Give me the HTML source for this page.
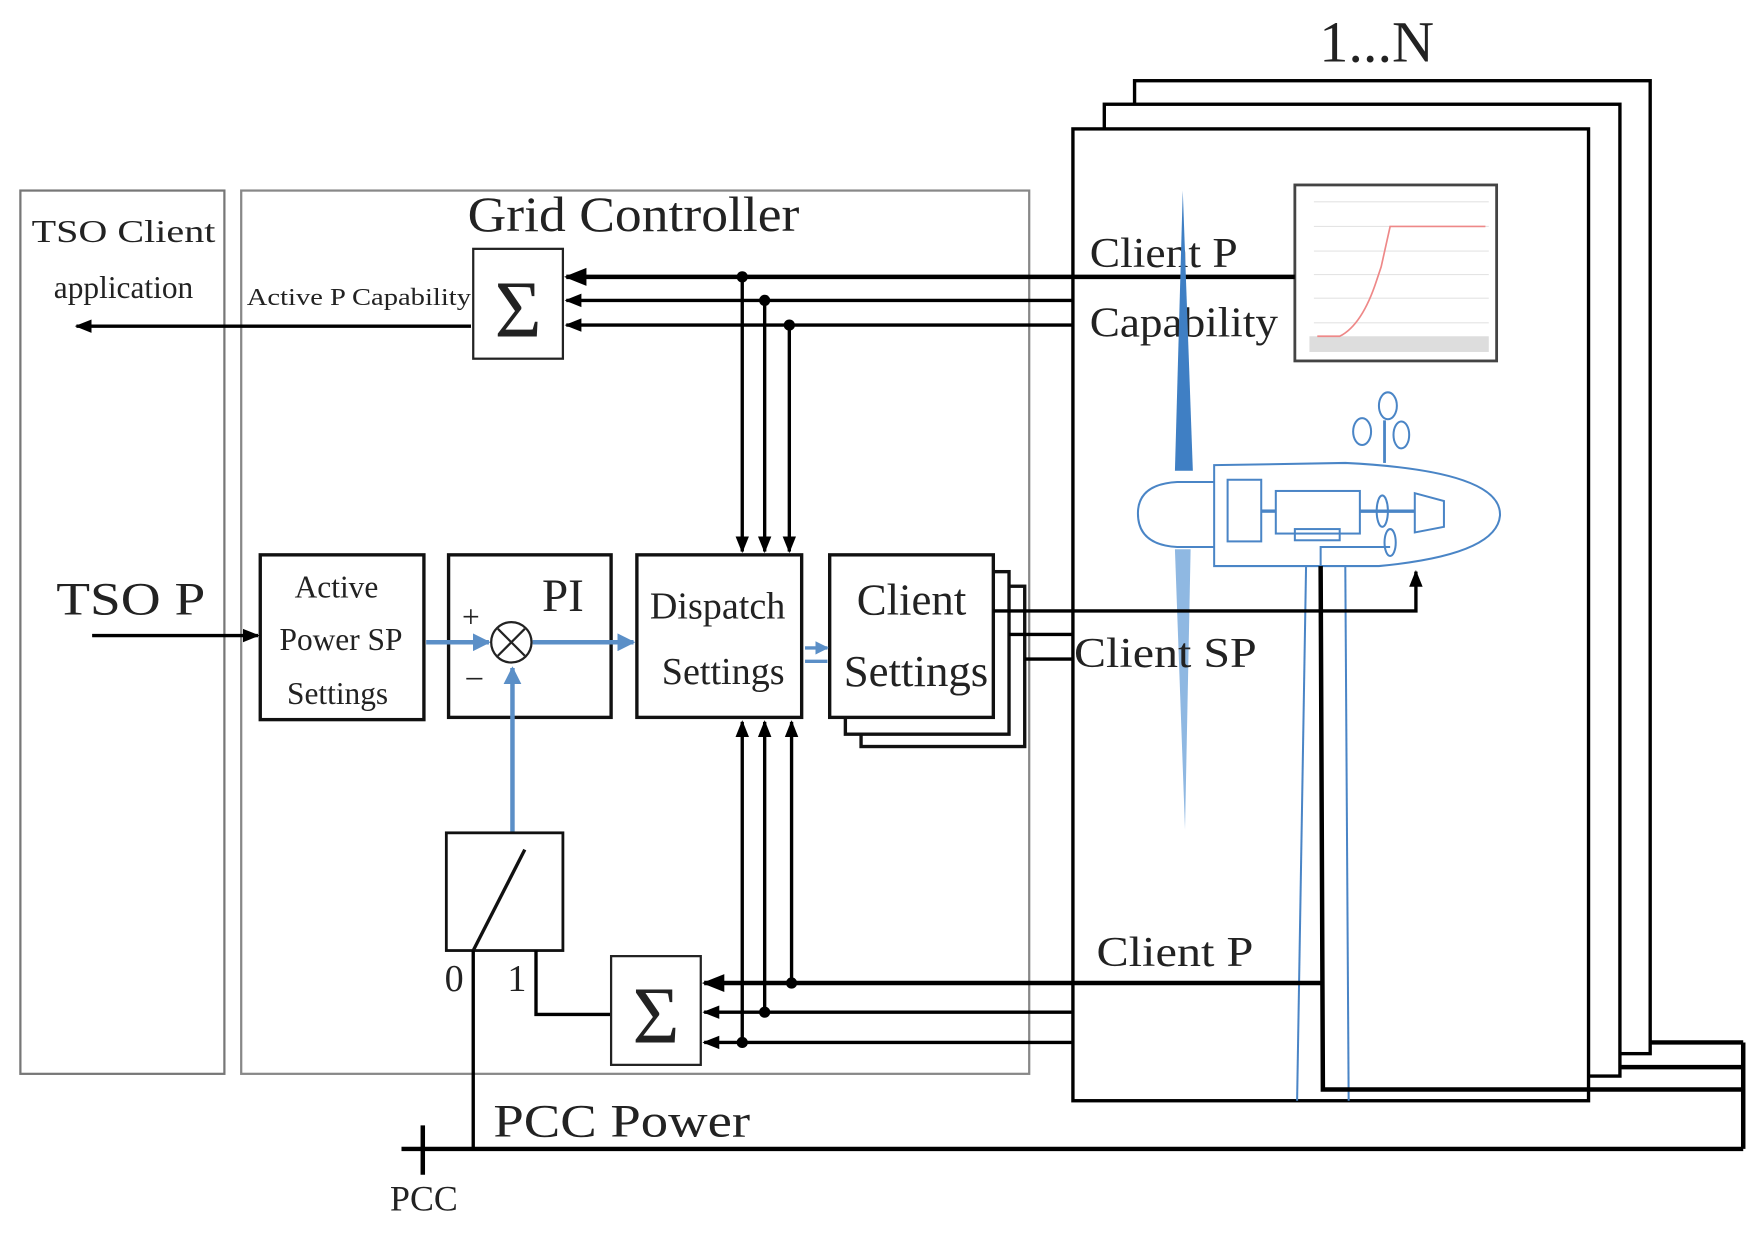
<!DOCTYPE html>
<html><head><meta charset="utf-8"><style>
html,body{margin:0;padding:0;background:#fff;width:1758px;height:1233px;overflow:hidden}
svg{display:block}
text{font-family:"Liberation Serif",serif;fill:#222}
</style></head><body>
<svg width="1758" height="1233" viewBox="0 0 1568 1100" xmlns="http://www.w3.org/2000/svg">
<defs>
<marker id="a" viewBox="0 0 10 10" refX="9" refY="5" markerWidth="5" markerHeight="5" orient="auto"><path d="M0,1 L10,5 L0,9 z" fill="#000"/></marker>
<marker id="b" viewBox="0 0 10 10" refX="9" refY="5" markerWidth="4" markerHeight="4" orient="auto"><path d="M0,0 L10,5 L0,10 z" fill="#5b8fc7"/></marker>
</defs>
<rect x="18" y="170" width="182" height="788" fill="none" stroke="#777" stroke-width="2"/>
<rect x="215" y="170" width="703" height="788" fill="none" stroke="#888" stroke-width="2"/>
<text x="28" y="216" font-size="28" textLength="164" lengthAdjust="spacingAndGlyphs">TSO  Client</text>
<text x="110" y="266" font-size="28" text-anchor="middle">application</text>
<text x="417" y="206" font-size="44" textLength="296" lengthAdjust="spacingAndGlyphs">Grid Controller</text>
<rect x="1012" y="72" width="460" height="868" fill="#fff" stroke="#000" stroke-width="3"/>
<rect x="985" y="93" width="460" height="867" fill="#fff" stroke="#000" stroke-width="3"/>
<rect x="957" y="115" width="460" height="867" fill="#fff" stroke="#000" stroke-width="3"/>
<text x="1228" y="55" font-size="52" text-anchor="middle">1...N</text>
<rect x="1155" y="165" width="180" height="157" fill="#fff" stroke="#444" stroke-width="2.5"/>
<g stroke="#e4e4e4" stroke-width="1"><line x1="1172" y1="180" x2="1328" y2="180"/><line x1="1172" y1="202" x2="1328" y2="202"/><line x1="1172" y1="224" x2="1328" y2="224"/><line x1="1172" y1="245" x2="1328" y2="245"/><line x1="1172" y1="266" x2="1328" y2="266"/><line x1="1172" y1="288" x2="1328" y2="288"/></g>
<rect x="1168" y="300" width="160" height="14" fill="#ddd"/>
<path d="M1175,300 L1195,300 Q1215,290 1228,250 L1232,238 L1240,202 L1325,202" fill="none" stroke="#e88" stroke-width="1.5"/>
<rect x="422" y="222" width="80" height="98" fill="#fff" stroke="#222" stroke-width="2"/>
<text x="462" y="300" font-size="72" text-anchor="middle">Σ</text>
<text x="220" y="272" font-size="22" textLength="200" lengthAdjust="spacingAndGlyphs">Active P Capability</text>
<line x1="420" y1="291" x2="68" y2="291" stroke="#000" stroke-width="3" marker-end="url(#a)"/>
<line x1="1155" y1="247" x2="505" y2="247" stroke="#000" stroke-width="4" marker-end="url(#a)"/>
<line x1="957" y1="268" x2="505" y2="268" stroke="#000" stroke-width="3" marker-end="url(#a)"/>
<line x1="957" y1="290" x2="505" y2="290" stroke="#000" stroke-width="3" marker-end="url(#a)"/>
<g stroke="#000" stroke-width="3"><line x1="662" y1="247" x2="662" y2="492" marker-end="url(#a)"/><line x1="682" y1="268" x2="682" y2="492" marker-end="url(#a)"/><line x1="704" y1="290" x2="704" y2="492" marker-end="url(#a)"/></g>
<circle cx="662" cy="247" r="5"/><circle cx="682" cy="268" r="5"/><circle cx="704" cy="290" r="5"/>
<text x="972" y="238" font-size="38" textLength="132" lengthAdjust="spacingAndGlyphs">Client P</text>
<text x="972" y="300" font-size="38" textLength="168" lengthAdjust="spacingAndGlyphs">Capability</text>
<path d="M1055,170 L1048,420 L1064,420 Z" fill="#3f7fc4"/>
<path d="M1048,490 L1062,490 L1057,740 Z" fill="#8fb8e2"/>
<g fill="none" stroke="#4a85c6" stroke-width="1.8">
<path d="M1083,415 L1200,413 Q1340,420 1338,460 Q1335,495 1230,505 L1083,505 Z"/>
<path d="M1083,430 L1050,430 Q1015,432 1015,458 Q1015,486 1050,488 L1083,488"/>
<rect x="1095" y="428" width="30" height="55"/>
<rect x="1138" y="438" width="75" height="38"/>
<rect x="1155" y="472" width="40" height="10"/>
<path d="M1262,440 L1288,447 L1288,470 L1262,475 Z"/>
<line x1="1125" y1="456" x2="1138" y2="456" stroke-width="3"/>
<line x1="1213" y1="456" x2="1262" y2="456" stroke-width="3"/>
<ellipse cx="1233" cy="456" rx="5" ry="14"/>
<ellipse cx="1240" cy="484" rx="5" ry="12"/>
<path d="M1178,505 L1178,488 L1240,488"/>
<line x1="1235" y1="413" x2="1235" y2="375" stroke-width="2.5"/>
<ellipse cx="1238" cy="362" rx="8" ry="12"/>
<ellipse cx="1215" cy="385" rx="8" ry="12"/>
<ellipse cx="1250" cy="388" rx="7" ry="12"/>
<line x1="1165" y1="505" x2="1157" y2="982"/>
<line x1="1200" y1="505" x2="1203" y2="982"/>
</g>
<g fill="#fff" stroke="#111" stroke-width="3">
<rect x="232" y="495" width="146" height="147"/>
<rect x="400" y="495" width="145" height="145"/>
<rect x="568" y="495" width="147" height="145"/>
<rect x="768" y="523" width="146" height="143"/>
<rect x="754" y="510" width="146" height="145"/>
<rect x="740" y="495" width="146" height="145"/>
</g>
<text x="300" y="533" font-size="28" text-anchor="middle">Active</text>
<text x="304" y="580" font-size="28" text-anchor="middle">Power SP</text>
<text x="301" y="628" font-size="28" text-anchor="middle">Settings</text>
<text x="502" y="545" font-size="42" text-anchor="middle">PI</text>
<text x="640" y="552" font-size="34" text-anchor="middle">Dispatch</text>
<text x="645" y="610" font-size="34" text-anchor="middle">Settings</text>
<text x="813" y="548" font-size="40" text-anchor="middle">Client</text>
<text x="817" y="612" font-size="40" text-anchor="middle">Settings</text>
<text x="50" y="548" font-size="42" textLength="133" lengthAdjust="spacingAndGlyphs">TSO  P</text>
<line x1="82" y1="567" x2="230" y2="567" stroke="#000" stroke-width="3" marker-end="url(#a)"/>
<text x="412" y="560" font-size="28">+</text>
<text x="416" y="612" font-size="28">–</text>
<g stroke="#5b8fc7" stroke-width="4" fill="none">
<line x1="380" y1="573" x2="436" y2="573" marker-end="url(#b)"/>
<line x1="475" y1="573" x2="565" y2="573" marker-end="url(#b)"/>
<line x1="457" y1="743" x2="457" y2="596" marker-end="url(#b)"/>
<line x1="718" y1="578" x2="738" y2="578" stroke-width="3" marker-end="url(#b)"/>
<line x1="718" y1="590" x2="738" y2="590" stroke-width="3"/>
</g>
<circle cx="456" cy="573" r="18" fill="#fff" stroke="#222" stroke-width="2"/>
<line x1="444" y1="561" x2="468" y2="585" stroke="#222" stroke-width="2"/><line x1="468" y1="561" x2="444" y2="585" stroke="#222" stroke-width="2"/>
<g stroke="#000" stroke-width="3" fill="none">
<path d="M886,545 L1263,545 L1263,510" marker-end="url(#a)"/>
<line x1="900" y1="566" x2="957" y2="566"/>
<line x1="914" y1="588" x2="957" y2="588"/>
</g>
<text x="958" y="595" font-size="38" textLength="163" lengthAdjust="spacingAndGlyphs">Client SP</text>
<rect x="398" y="743" width="104" height="105" fill="#fff" stroke="#111" stroke-width="2.5"/>
<line x1="422" y1="848" x2="468" y2="758" stroke="#111" stroke-width="3"/>
<text x="405" y="884" font-size="34" text-anchor="middle">0</text>
<text x="461" y="884" font-size="34" text-anchor="middle">1</text>
<path d="M478,848 L478,905 L545,905" fill="none" stroke="#000" stroke-width="3"/>
<rect x="545" y="853" width="80" height="97" fill="#fff" stroke="#222" stroke-width="2"/>
<text x="585" y="930" font-size="72" text-anchor="middle">Σ</text>
<line x1="1180" y1="877" x2="628" y2="877" stroke="#000" stroke-width="4" marker-end="url(#a)"/>
<line x1="957" y1="903" x2="628" y2="903" stroke="#000" stroke-width="3" marker-end="url(#a)"/>
<line x1="957" y1="930" x2="628" y2="930" stroke="#000" stroke-width="3" marker-end="url(#a)"/>
<g stroke="#000" stroke-width="3"><line x1="662" y1="930" x2="662" y2="644" marker-end="url(#a)"/><line x1="682" y1="903" x2="682" y2="644" marker-end="url(#a)"/><line x1="706" y1="877" x2="706" y2="644" marker-end="url(#a)"/></g>
<circle cx="706" cy="877" r="5"/><circle cx="682" cy="903" r="5"/><circle cx="662" cy="930" r="5"/>
<text x="978" y="862" font-size="38" textLength="140" lengthAdjust="spacingAndGlyphs">Client P</text>
<path d="M1178,505 L1180,972 L1555,972" fill="none" stroke="#000" stroke-width="4"/>
<g stroke="#000" stroke-width="4" fill="none">
<line x1="358" y1="1025" x2="1555" y2="1025"/>
<line x1="377" y1="1004" x2="377" y2="1048"/>
<line x1="422" y1="848" x2="422" y2="1025" stroke-width="3"/>
<line x1="1555" y1="930" x2="1555" y2="1025"/>
<line x1="1472" y1="930" x2="1555" y2="930"/>
<line x1="1445" y1="952" x2="1555" y2="952"/>
</g>
<text x="440" y="1014" font-size="42" textLength="229" lengthAdjust="spacingAndGlyphs">PCC Power</text>
<text x="378" y="1080" font-size="32" text-anchor="middle">PCC</text>
</svg>
</body></html>
